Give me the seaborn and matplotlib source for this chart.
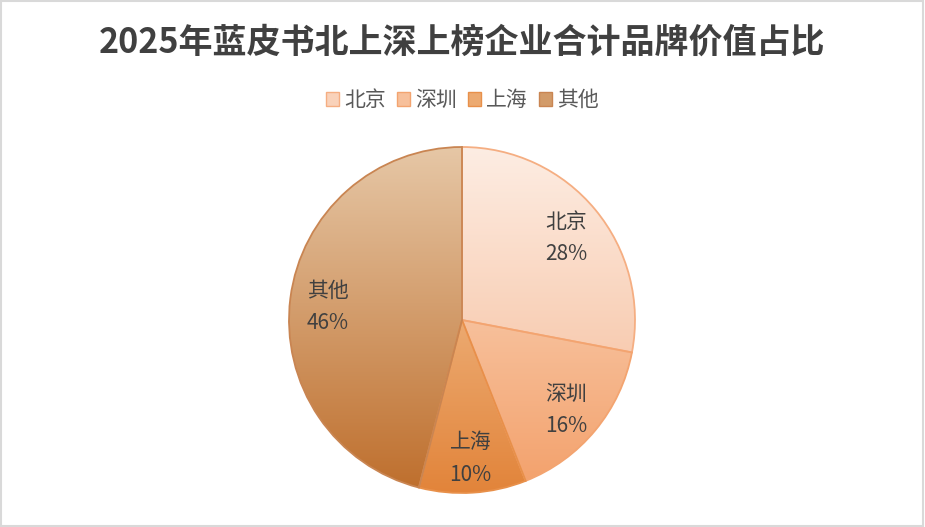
import numpy as np
import matplotlib
matplotlib.use("Agg")
import matplotlib.pyplot as plt
import matplotlib.colors as mcolors
from matplotlib.patches import Patch, Rectangle
import seaborn as sns

# ---- data ----
categories = ["北京", "深圳", "上海", "其他"]
shares = [28, 16, 10, 46]
title = "2025年蓝皮书北上深上榜企业合计品牌价值占比"

# gradient colours (top, bottom) and edges per slice
grad_top = ["#FDEDE3", "#FBE0CC", "#F6D0A8", "#E6C7A6"]
grad_bottom = ["#F5B690", "#F3A06A", "#E2843A", "#BE6E2C"]
edge_cols = ["#F5AE82", "#F3A470", "#E8904A", "#C98552"]

sns.set_theme(style="white")
plt.rcParams["font.family"] = ["Noto Sans CJK SC", "DejaVu Sans"]

fig = plt.figure(figsize=(9.25, 5.27), dpi=100)
fig.patch.set_facecolor("white")

# light border
fig.add_artist(Rectangle((0.001, 0.001), 0.997, 0.997, transform=fig.transFigure,
                         fill=False, edgecolor="#D9D9D9", linewidth=1.5))

W, H = 925, 527
cx, cy, r = 462, 320, 173
ax = fig.add_axes([(cx - r) / W, (H - cy - r) / H, 2 * r / W, 2 * r / H])

wedges, texts = ax.pie(
    shares, labels=None, startangle=90, counterclock=False, radius=1,
    wedgeprops=dict(linewidth=1.3),
)
ax.set_xlim(-1, 1)
ax.set_ylim(-1, 1)
ax.set_aspect("equal")
ax.axis("off")

for i, w in enumerate(wedges):
    w.set_facecolor("none")
    w.set_edgecolor(edge_cols[i])
    w.set_zorder(3)
    w.set_clip_on(False)
    c0 = np.array(mcolors.to_rgb(grad_top[i]))
    c1 = np.array(mcolors.to_rgb(grad_bottom[i]))
    t = np.linspace(0, 1, 256)[:, None, None]
    img = c0[None, None, :] * (1 - t) + c1[None, None, :] * t
    im = ax.imshow(img, extent=(-1, 1, -1, 1), origin="upper", aspect="auto",
                   interpolation="bilinear", zorder=2)
    im.set_clip_path(w)

# labels
total = sum(shares)
angle = 90.0
for cat, v in zip(categories, shares):
    span = 360.0 * v / total
    mid = np.deg2rad(angle - span / 2)
    angle -= span
    d = 0.78
    ax.text(d * np.cos(mid), d * np.sin(mid) - 0.022, f"{cat}\n{round(100 * v / total)}%",
            ha="center", va="center", fontsize=15, color="#404040",
            linespacing=1.6, zorder=5)

fig.text(0.5, 1 - 42 / H, title, ha="center", va="center", fontsize=24.5,
         fontweight="bold", color="#404040")

handles = [Patch(facecolor=mcolors.to_hex((np.array(mcolors.to_rgb(a)) + np.array(mcolors.to_rgb(b))) / 2),
                 edgecolor=e, linewidth=1) for a, b, e in zip(grad_top, grad_bottom, edge_cols)]
fig.legend(handles, categories, loc="center", bbox_to_anchor=(0.5, 1 - 100 / H),
           ncol=4, frameon=False, fontsize=15, handlelength=0.65, handleheight=0.65,
           handletextpad=0.25, columnspacing=0.5, labelcolor="#595959")

fig.savefig("out.png", dpi=100)
